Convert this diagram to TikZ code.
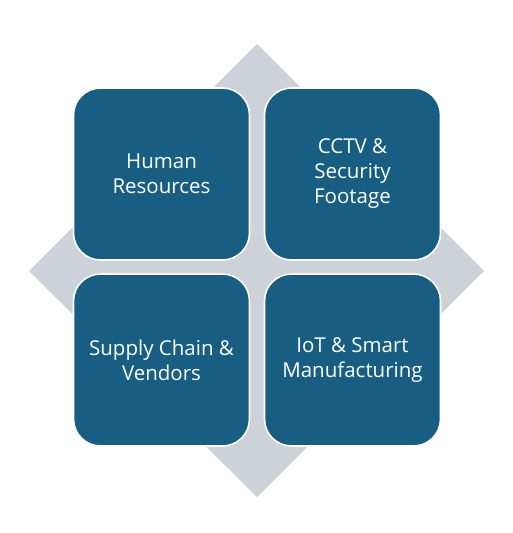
\documentclass[tikz,border=0pt]{standalone}
\usepackage{xcolor}
\usepackage{fontspec}
\setmainfont{Open Sans}
\usepackage{tikz}
\usetikzlibrary{positioning}
\definecolor{tileblue}{RGB}{23,94,130}
\definecolor{diamondgray}{RGB}{205,210,216}
\begin{document}
\begin{tikzpicture}[x=1pt, y=-1pt,
    tile/.style={rectangle, rounded corners=27pt, fill=tileblue, draw=white, line width=1.6pt,
      minimum width=176pt, minimum height=172pt, inner sep=0pt, outer sep=0pt,
      text=white, align=center, font=\fontsize{20.5}{25}\selectfont}]
    \useasboundingbox (0,0) rectangle (512,533);
    \fill[diamondgray] (257,44) -- (484,271) -- (257,497) -- (29,271) -- cycle;
    \node[tile] (hr) at (161.5,174) {Human\\Resources};
    \node[tile, right=15pt of hr] (cctv) {CCTV \&\\Security\\Footage};
    \node[tile, below=14pt of hr] (supply) {Supply Chain \&\\Vendors};
    \node[tile, right=15pt of supply] (iot) {IoT \& Smart\\Manufacturing};
\end{tikzpicture}
\end{document}
